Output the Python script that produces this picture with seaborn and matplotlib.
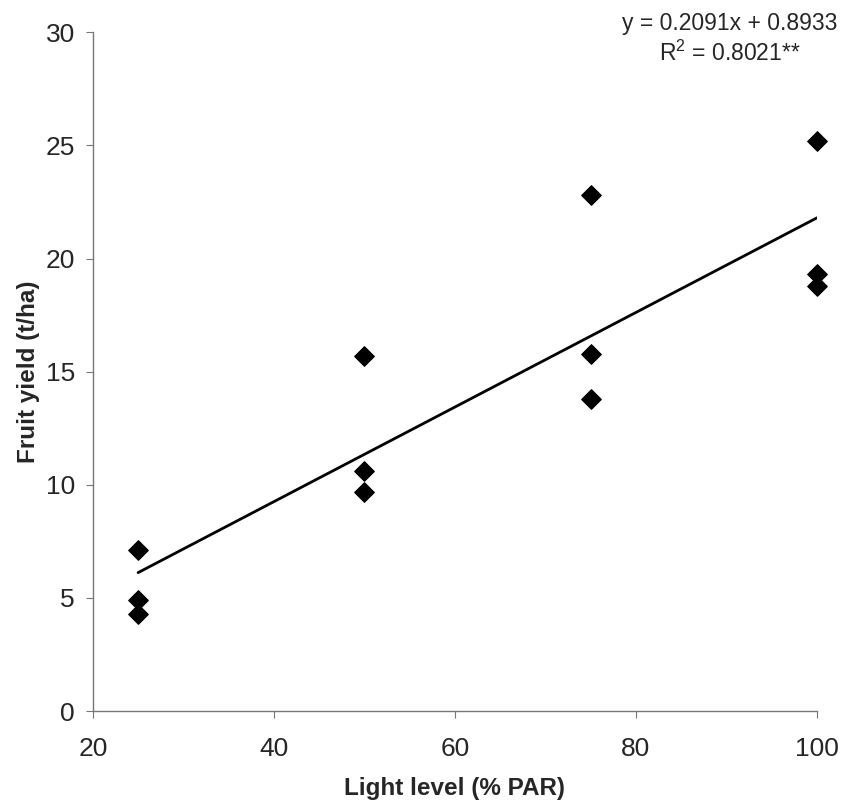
import matplotlib
matplotlib.use("Agg")
import matplotlib.pyplot as plt
import seaborn as sns
import numpy as np
import pandas as pd

light = [25, 25, 25, 50, 50, 50, 75, 75, 75, 100, 100, 100]
yield_t = [7.1, 4.9, 4.3, 15.7, 10.6, 9.7, 22.8, 15.8, 13.8, 25.2, 19.3, 18.8]
slope = 0.2091
intercept = 0.8933
r2 = 0.8021

sns.set_style("white")
plt.rcParams['font.family'] = ['Liberation Sans', 'DejaVu Sans']

fig = plt.figure(figsize=(8.44, 8.09), dpi=100)
ax = fig.add_axes([0.110, 0.121, 0.858, 0.839])

df = pd.DataFrame({"x": light, "y": yield_t})
sns.scatterplot(data=df, x="x", y="y", marker="D", s=100, color="black",
                edgecolor="black", ax=ax, zorder=3, clip_on=False)
xl = np.array([min(light), max(light)])
ax.plot(xl, slope * xl + intercept, color="black", lw=2)

ax.set_xlim(20, 100)
ax.set_ylim(0, 30)
ax.set_xticks([20, 40, 60, 80, 100])
ax.set_yticks([0, 5, 10, 15, 20, 25, 30])
for s in ["top", "right"]:
    ax.spines[s].set_visible(False)
for s in ["left", "bottom"]:
    ax.spines[s].set_color("#777777")
    ax.spines[s].set_linewidth(1)
ax.tick_params(axis="both", direction="out", length=5, color="#777777",
               labelsize=19, left=True, bottom=True)
ax.tick_params(axis="x", pad=14)
ax.tick_params(axis="y", pad=8)
ax.set_xlabel("Light level (% PAR)", fontsize=17.5, fontweight="bold", labelpad=11)
ax.set_ylabel("Fruit yield (t/ha)", fontsize=17.5, fontweight="bold", labelpad=4)

fig.text(0.865, 0.985, f"y = {slope}x + {intercept}\n$\\mathregular{{R^2}}$ = {r2}**",
         ha="center", va="top", fontsize=16.5, linespacing=1.3)

fig.savefig("out.png", dpi=100)
